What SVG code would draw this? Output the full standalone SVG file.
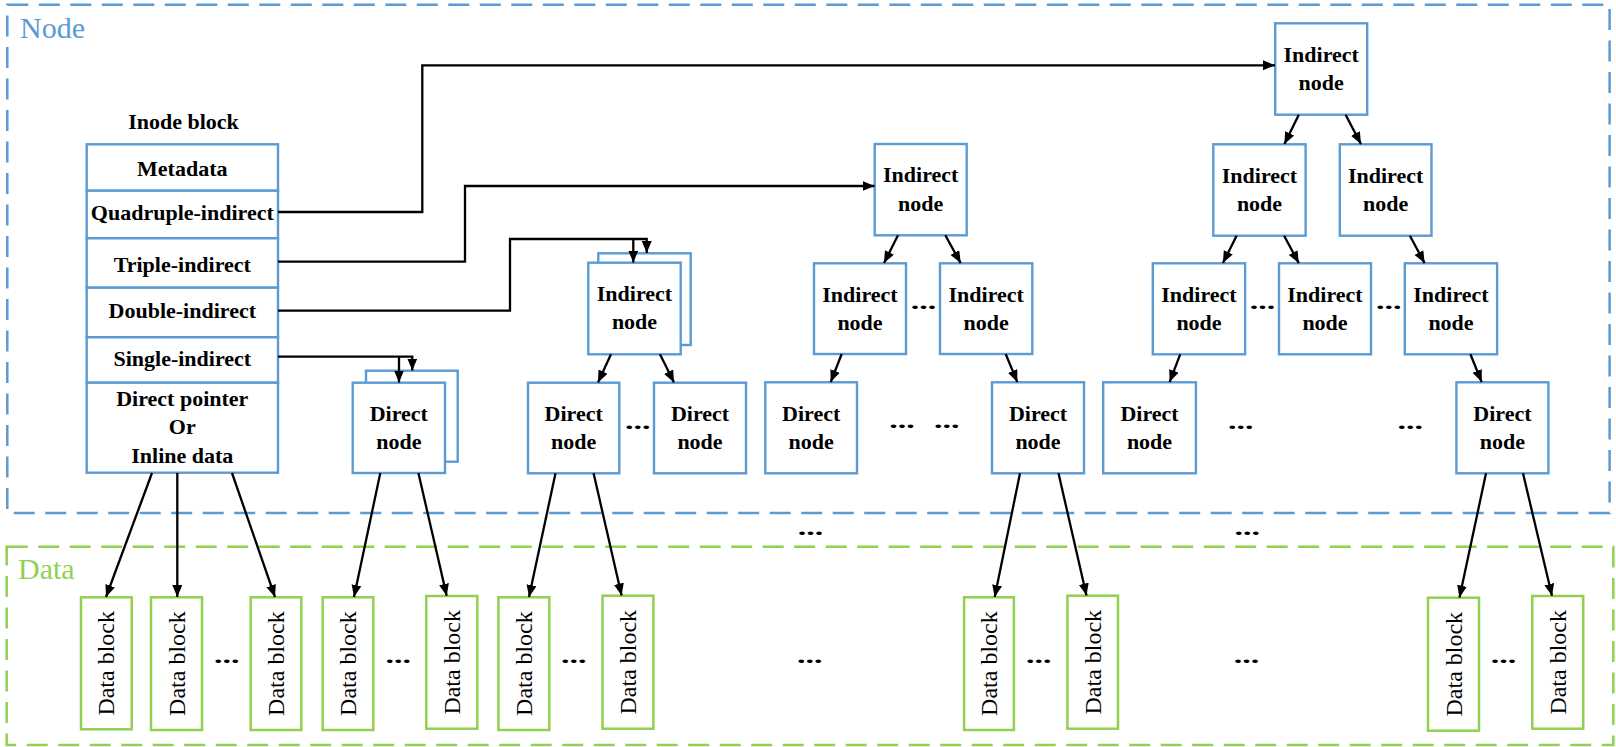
<svg xmlns="http://www.w3.org/2000/svg" width="1616" height="747" viewBox="0 0 1616 747">
  <defs>
    <style>
      .zone-node { fill: none; stroke: #5B9BD5; stroke-width: 2.5; stroke-dasharray: 21 10.5; }
      .zone-data { fill: none; stroke: #92D050; stroke-width: 2.5; stroke-dasharray: 21 10.5; }
      .zone-label { font-family: "Liberation Serif", "Times New Roman", serif; font-size: 30px; }
      .box { fill: #FFFFFF; stroke: #5B9BD5; stroke-width: 2.4; }
      .dbox { fill: #FFFFFF; stroke: #92D050; stroke-width: 2.5; }
      .t { font-family: "Liberation Serif", "Times New Roman", serif; font-size: 22px; font-weight: bold; fill: #000; text-anchor: middle; }
      .dt { font-family: "Liberation Serif", "Times New Roman", serif; font-size: 24px; fill: #000; text-anchor: middle; }
      .dots { font-family: "Liberation Serif", "Times New Roman", serif; font-size: 20px; font-weight: bold; fill: #000; text-anchor: middle; }
      .wire { fill: none; stroke: #000; stroke-width: 2.3; marker-end: url(#arrow); }
    </style>
    <marker id="arrow" markerUnits="userSpaceOnUse" markerWidth="13" markerHeight="11" refX="12" refY="5" orient="auto">
      <path d="M0,0 L12,5 L0,10 Z" fill="#000"/>
    </marker>
  </defs>

  <rect width="1616" height="747" fill="#FFFFFF"/>

  <!-- zones -->
  <g id="zone-node">
    <rect class="zone-node" x="7.3" y="4.7" width="1602.3" height="508.3"/>
    <text class="zone-label" x="20" y="38" fill="#5B9BD5">Node</text>
  </g>
  <g id="zone-data">
    <rect class="zone-data" x="6.7" y="546.7" width="1606.6" height="198.3"/>
    <text class="zone-label" x="18" y="579" fill="#92D050">Data</text>
  </g>

  <!-- inode block -->
  <g id="inode">
    <text class="t" x="183.5" y="129.3">Inode block</text>
    <rect class="box" x="86.7" y="144.3" width="191.3" height="46.4"/>
    <rect class="box" x="86.7" y="190.7" width="191.3" height="47.6"/>
    <rect class="box" x="86.7" y="238.3" width="191.3" height="49.4"/>
    <rect class="box" x="86.7" y="287.7" width="191.3" height="49.6"/>
    <rect class="box" x="86.7" y="337.3" width="191.3" height="45.4"/>
    <rect class="box" x="86.7" y="382.7" width="191.3" height="90"/>
    <text class="t" x="182.3" y="176">Metadata</text>
    <text class="t" x="182.3" y="220">Quadruple-indirect</text>
    <text class="t" x="182.3" y="272">Triple-indirect</text>
    <text class="t" x="182.3" y="318">Double-indirect</text>
    <text class="t" x="182.3" y="366">Single-indirect</text>
    <text class="t" x="182.3" y="405.7">Direct pointer</text>
    <text class="t" x="182.3" y="434">Or</text>
    <text class="t" x="182.3" y="463">Inline data</text>
  </g>

  <!-- single-indirect: stacked direct nodes -->
  <g id="single-direct">
    <rect class="box" x="366" y="370.7" width="91.7" height="91"/>
    <rect class="box" x="352.7" y="382.7" width="92.3" height="90.3"/>
    <text class="t" x="398.8" y="420.7">Direct</text>
    <text class="t" x="398.8" y="449.2">node</text>
  </g>

  <!-- double-indirect -->
  <g id="double-indirect">
    <rect class="box" x="598.3" y="253.3" width="92.4" height="91.7"/>
    <rect class="box" x="588.3" y="262.7" width="92.4" height="91.6"/>
    <text class="t" x="634.5" y="301">Indirect</text>
    <text class="t" x="634.5" y="329.3">node</text>
  </g>
  <g id="double-direct-1">
    <rect class="box" x="528" y="382.7" width="91.3" height="90.6"/>
    <text class="t" x="573.7" y="420.7">Direct</text>
    <text class="t" x="573.7" y="449.2">node</text>
  </g>
  <g id="double-direct-2">
    <rect class="box" x="654" y="382.7" width="92" height="90.6"/>
    <text class="t" x="700" y="420.7">Direct</text>
    <text class="t" x="700" y="449.2">node</text>
  </g>

  <!-- triple-indirect -->
  <g id="triple-l1">
    <rect class="box" x="874.7" y="144" width="92" height="91.3"/>
    <text class="t" x="920.7" y="182.3">Indirect</text>
    <text class="t" x="920.7" y="210.5">node</text>
  </g>
  <g id="triple-l2-1">
    <rect class="box" x="814" y="263.3" width="92" height="90.7"/>
    <text class="t" x="860" y="301.5">Indirect</text>
    <text class="t" x="860" y="329.8">node</text>
  </g>
  <g id="triple-l2-2">
    <rect class="box" x="940" y="263.3" width="92.3" height="90.7"/>
    <text class="t" x="986.2" y="301.5">Indirect</text>
    <text class="t" x="986.2" y="329.8">node</text>
  </g>
  <g id="triple-direct-1">
    <rect class="box" x="765.3" y="382.3" width="91.7" height="91"/>
    <text class="t" x="811.2" y="420.7">Direct</text>
    <text class="t" x="811.2" y="449.2">node</text>
  </g>
  <g id="triple-direct-2">
    <rect class="box" x="992" y="382.3" width="92" height="91"/>
    <text class="t" x="1038" y="420.7">Direct</text>
    <text class="t" x="1038" y="449.2">node</text>
  </g>

  <!-- quadruple-indirect -->
  <g id="quad-l1">
    <rect class="box" x="1275.2" y="23.3" width="92" height="91.4"/>
    <text class="t" x="1321.2" y="61.7">Indirect</text>
    <text class="t" x="1321.2" y="90">node</text>
  </g>
  <g id="quad-l2-1">
    <rect class="box" x="1213.3" y="144.3" width="92.3" height="91.4"/>
    <text class="t" x="1259.5" y="182.5">Indirect</text>
    <text class="t" x="1259.5" y="210.8">node</text>
  </g>
  <g id="quad-l2-2">
    <rect class="box" x="1339.8" y="144.3" width="91.7" height="91.4"/>
    <text class="t" x="1385.6" y="182.5">Indirect</text>
    <text class="t" x="1385.6" y="210.8">node</text>
  </g>
  <g id="quad-l3-1">
    <rect class="box" x="1152.8" y="263.3" width="92.3" height="91"/>
    <text class="t" x="1199" y="301.5">Indirect</text>
    <text class="t" x="1199" y="329.8">node</text>
  </g>
  <g id="quad-l3-2">
    <rect class="box" x="1279" y="263.3" width="92" height="91"/>
    <text class="t" x="1325" y="301.5">Indirect</text>
    <text class="t" x="1325" y="329.8">node</text>
  </g>
  <g id="quad-l3-3">
    <rect class="box" x="1404.8" y="263.3" width="92.3" height="91"/>
    <text class="t" x="1451" y="301.5">Indirect</text>
    <text class="t" x="1451" y="329.8">node</text>
  </g>
  <g id="quad-direct-1">
    <rect class="box" x="1103.2" y="382.3" width="92.7" height="91"/>
    <text class="t" x="1149.5" y="420.7">Direct</text>
    <text class="t" x="1149.5" y="449.2">node</text>
  </g>
  <g id="quad-direct-2">
    <rect class="box" x="1456.4" y="382.3" width="92" height="91"/>
    <text class="t" x="1502.4" y="420.7">Direct</text>
    <text class="t" x="1502.4" y="449.2">node</text>
  </g>

  <!-- data blocks (label rotated, reading upward) -->
  <g id="data-1"><rect class="dbox" x="81" y="597.3" width="50.7" height="132"/><text class="dt" transform="translate(114.4,663.3) rotate(-90)">Data block</text></g>
  <g id="data-2"><rect class="dbox" x="151" y="597.3" width="51" height="132.7"/><text class="dt" transform="translate(184.5,663.6) rotate(-90)">Data block</text></g>
  <g id="data-3"><rect class="dbox" x="250.7" y="597.3" width="50.6" height="132.7"/><text class="dt" transform="translate(284,663.6) rotate(-90)">Data block</text></g>
  <g id="data-4"><rect class="dbox" x="322.7" y="597.3" width="50.6" height="132.7"/><text class="dt" transform="translate(356,663.6) rotate(-90)">Data block</text></g>
  <g id="data-5"><rect class="dbox" x="426.3" y="596" width="51" height="132.7"/><text class="dt" transform="translate(459.8,662.3) rotate(-90)">Data block</text></g>
  <g id="data-6"><rect class="dbox" x="498.4" y="597.3" width="50.9" height="132.7"/><text class="dt" transform="translate(531.9,663.6) rotate(-90)">Data block</text></g>
  <g id="data-7"><rect class="dbox" x="602.5" y="595.7" width="50.9" height="133"/><text class="dt" transform="translate(636,662.2) rotate(-90)">Data block</text></g>
  <g id="data-8"><rect class="dbox" x="964.1" y="597.3" width="49.8" height="132.7"/><text class="dt" transform="translate(997,663.6) rotate(-90)">Data block</text></g>
  <g id="data-9"><rect class="dbox" x="1067.4" y="595.7" width="50.6" height="133"/><text class="dt" transform="translate(1100.7,662.2) rotate(-90)">Data block</text></g>
  <g id="data-10"><rect class="dbox" x="1428" y="597.7" width="51" height="133"/><text class="dt" transform="translate(1461.5,664.2) rotate(-90)">Data block</text></g>
  <g id="data-11"><rect class="dbox" x="1532.3" y="596" width="50.9" height="132.7"/><text class="dt" transform="translate(1565.8,662.3) rotate(-90)">Data block</text></g>

  <!-- ellipses -->
  <g id="ellipses">
    <text class="dots" transform="translate(637.7,429) scale(1.7,1)">...</text>
    <text class="dots" transform="translate(923.5,309.3) scale(1.7,1)">...</text>
    <text class="dots" transform="translate(902,428) scale(1.7,1)">...</text>
    <text class="dots" transform="translate(946.7,428) scale(1.7,1)">...</text>
    <text class="dots" transform="translate(1262.6,309.3) scale(1.7,1)">...</text>
    <text class="dots" transform="translate(1388.8,309.3) scale(1.7,1)">...</text>
    <text class="dots" transform="translate(1240.7,428.7) scale(1.7,1)">...</text>
    <text class="dots" transform="translate(1410.3,428.7) scale(1.7,1)">...</text>
    <text class="dots" transform="translate(810.5,535.3) scale(1.7,1)">...</text>
    <text class="dots" transform="translate(1247.2,535.3) scale(1.7,1)">...</text>
    <text class="dots" transform="translate(226.7,662.7) scale(1.7,1)">...</text>
    <text class="dots" transform="translate(398.3,662.7) scale(1.7,1)">...</text>
    <text class="dots" transform="translate(573.8,662.7) scale(1.7,1)">...</text>
    <text class="dots" transform="translate(809.7,662.7) scale(1.7,1)">...</text>
    <text class="dots" transform="translate(1038.8,662.7) scale(1.7,1)">...</text>
    <text class="dots" transform="translate(1246.4,662.7) scale(1.7,1)">...</text>
    <text class="dots" transform="translate(1503.6,662.7) scale(1.7,1)">...</text>
  </g>

  <!-- connectors -->
  <g id="connectors">
    <!-- inode pointers -->
    <path class="wire" d="M278,212 H422.3 V65.3 H1275"/>
    <path class="wire" d="M278,261.7 H465 V186 H874.5"/>
    <path class="wire" d="M278,310.7 H510 V239 H646.7 V253.1"/>
    <path class="wire" d="M633.3,239 V262.5"/>
    <path class="wire" d="M278,356.7 H412.3 V370.5"/>
    <path class="wire" d="M399,356.7 V382.5"/>

    <!-- double-indirect tree -->
    <path class="wire" d="M611,354.3 L598,382.5"/>
    <path class="wire" d="M660,354.3 L674,382.5"/>

    <!-- triple-indirect tree -->
    <path class="wire" d="M898,235.3 L884,263.1"/>
    <path class="wire" d="M945.3,235.3 L960.7,263.1"/>
    <path class="wire" d="M841.7,354 L830.7,382.1"/>
    <path class="wire" d="M1005.7,354 L1017.3,382.1"/>

    <!-- quadruple-indirect tree -->
    <path class="wire" d="M1298.8,114.7 L1284.4,144.1"/>
    <path class="wire" d="M1345.6,114.7 L1361,144.1"/>
    <path class="wire" d="M1236.6,235.7 L1222.9,263.1"/>
    <path class="wire" d="M1284.1,235.7 L1298.8,263.1"/>
    <path class="wire" d="M1409.9,235.7 L1424.6,263.1"/>
    <path class="wire" d="M1180.2,354.3 L1169.6,382.1"/>
    <path class="wire" d="M1470.4,354.3 L1481.7,382.1"/>

    <!-- to data blocks -->
    <path class="wire" d="M152,473 L106,597"/>
    <path class="wire" d="M177.3,473 L177.3,597"/>
    <path class="wire" d="M232,473 L275,597"/>
    <path class="wire" d="M380.3,473 L354,597"/>
    <path class="wire" d="M418.4,473 L446.7,595.8"/>
    <path class="wire" d="M555.5,473.3 L529,597"/>
    <path class="wire" d="M593.6,473.3 L621.6,595.5"/>
    <path class="wire" d="M1020,473.3 L994.7,597"/>
    <path class="wire" d="M1058.5,473.3 L1086.5,595.5"/>
    <path class="wire" d="M1486,473.3 L1459.5,597.5"/>
    <path class="wire" d="M1523,473.3 L1552,595.8"/>
  </g>
</svg>
